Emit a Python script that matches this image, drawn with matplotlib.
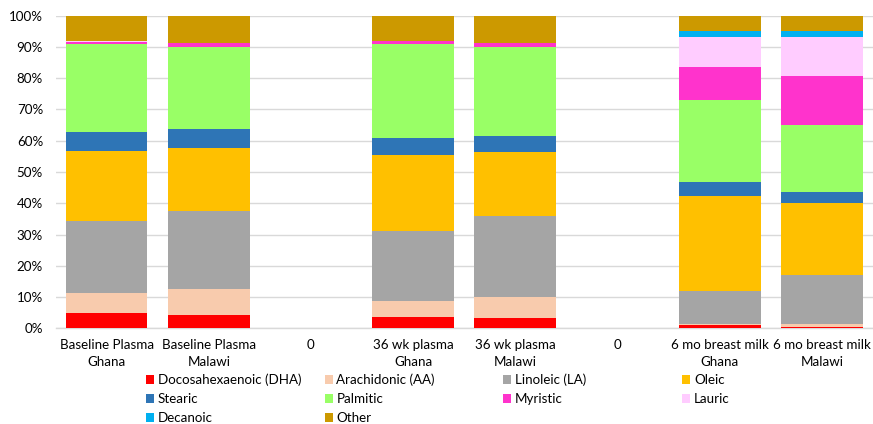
import matplotlib
matplotlib.use("Agg")
import matplotlib.pyplot as plt
from matplotlib.patches import Patch
import numpy as np

plt.rcParams['font.family'] = ['Lato', 'DejaVu Sans']

categories = ["Baseline Plasma\nGhana", "Baseline Plasma\nMalawi", "0",
              "36 wk plasma\nGhana", "36 wk plasma\nMalawi", "0",
              "6 mo breast milk\nGhana", "6 mo breast milk\nMalawi"]

series_names = ["Docosahexaenoic (DHA)", "Arachidonic (AA)", "Linoleic (LA)", "Oleic",
                "Stearic", "Palmitic", "Myristic", "Lauric", "Decanoic", "Other"]

dha      = [5.0, 4.35, 0, 3.7, 3.4, 0, 1.0, 0.5]
aa       = [6.2, 8.15, 0, 5.1, 6.7, 0, 0.4, 0.9]
la       = [23.1, 25.1, 0, 22.2, 25.9, 0, 10.4, 15.7]
oleic    = [22.5, 20.1, 0, 24.3, 20.5, 0, 30.6, 23.1]
stearic  = [6.1, 6.0, 0, 5.6, 5.0, 0, 4.5, 3.3]
palmitic = [27.9, 26.4, 0, 29.9, 28.6, 0, 26.1, 21.5]
myristic = [0.9, 1.1, 0, 1.1, 1.3, 0, 10.7, 15.7]
lauric   = [0.1, 0.1, 0, 0.0, 0.0, 0, 9.6, 12.4]
decanoic = [0.0, 0.0, 0, 0.0, 0.0, 0, 1.8, 2.0]
other    = [8.2, 8.7, 0, 8.1, 8.6, 0, 4.9, 4.9]

colors = ["#FF0000", "#F8CBAD", "#A5A5A5", "#FFC000", "#2E75B6",
          "#99FF66", "#FF33CC", "#FFCCFF", "#00B0F0", "#CC9900"]

yticks = [0, 10, 20, 30, 40, 50, 60, 70, 80, 90, 100]
ytick_labels = [f"{v}%" for v in yticks]

all_series = [dha, aa, la, oleic, stearic, palmitic, myristic, lauric, decanoic, other]

W, H = 873, 424
fig = plt.figure(figsize=(W/100, H/100), dpi=100)
ax = fig.add_axes([55.5/W, (H-328.3)/H, 1-55.5/W, (328.3-15.7)/H])

x = np.arange(len(categories))
bottom = np.zeros(len(categories))
handles = []
for name, vals, c in zip(series_names, all_series, colors):
    v = np.array(vals, dtype=float)
    ax.bar(x, v, 0.8, bottom=bottom, color=c, edgecolor='none', zorder=3, label=name)
    bottom += v
    handles.append(Patch(facecolor=c, edgecolor='none', label=name))

ax.set_xlim(-0.5, len(categories) - 0.5)
ax.set_ylim(0, 100)
ax.set_yticks(yticks)
ax.set_yticklabels(ytick_labels)
ax.set_xticks(x)
ax.set_xticklabels(categories, linespacing=1.45)
ax.tick_params(axis='both', length=0, labelsize=9.6, colors='#000000')
ax.tick_params(axis='y', pad=9)
ax.tick_params(axis='x', pad=8)
ax.grid(axis='y', color='#D9D9D9', linewidth=1.0, zorder=0)
for s in ['top', 'right', 'left']:
    ax.spines[s].set_visible(False)
ax.spines['bottom'].set_color('#D9D9D9')
ax.spines['bottom'].set_linewidth(1.0)

# legend entries laid out row-major in 4 equal columns, as in the original
col_x = [146, 324.5, 503, 682]
row_y = [380, 399, 418]
for i, h in enumerate(handles):
    r, c = divmod(i, 4)
    fig.legend(handles=[h], loc='center left',
               bbox_to_anchor=(col_x[c]/W, 1 - row_y[r]/H), frameon=False,
               fontsize=9.6, handlelength=0.6, handleheight=0.6,
               handletextpad=0.3, borderpad=0, borderaxespad=0)

fig.savefig("out.png", dpi=100)
